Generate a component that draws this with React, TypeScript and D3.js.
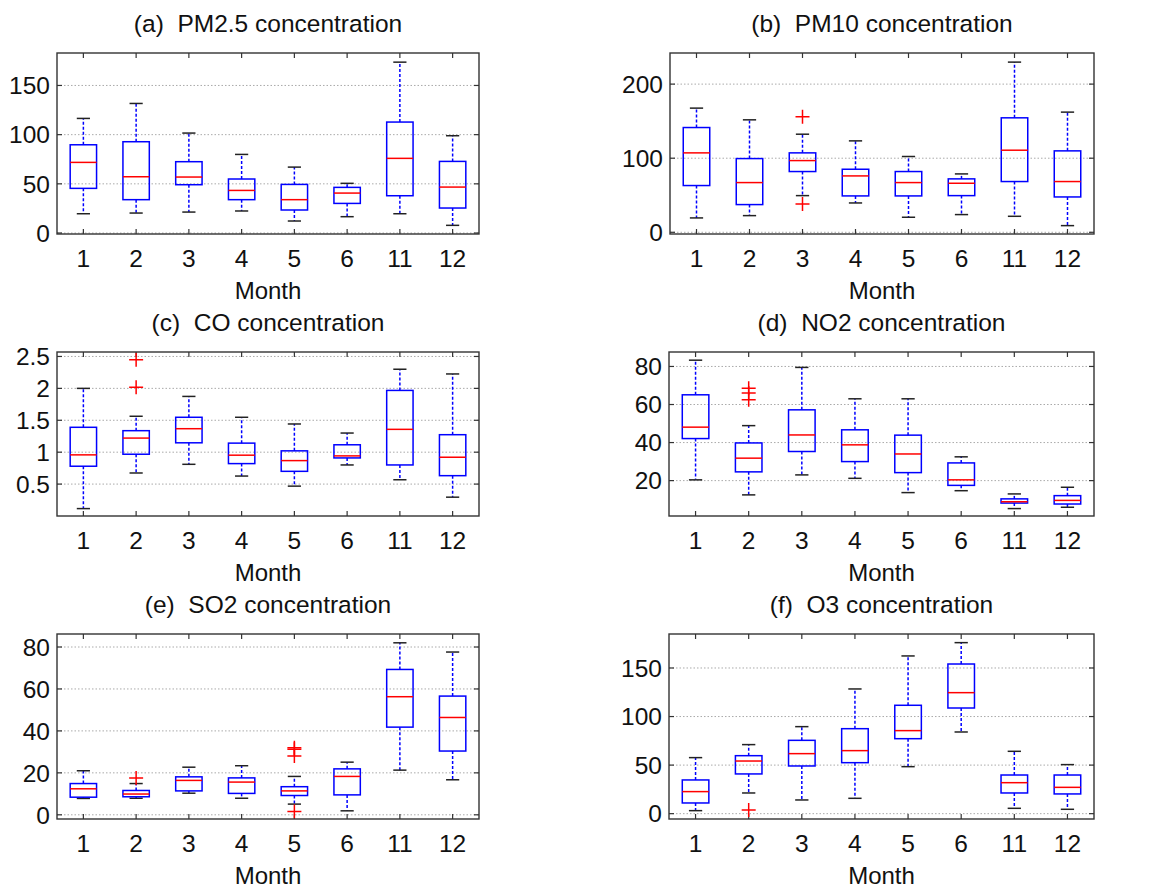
import React from 'react';
import * as d3 from 'd3';

// month labels on the x axis
const months = ['1', '2', '3', '4', '5', '6', '11', '12'];

// five-number summaries per month: [lower whisker, q1, median, q3, upper whisker]
const pm25 = [
  [19.6, 45.4, 71.8, 89.7, 116.5],
  [20.3, 33.9, 57.2, 92.8, 131.7],
  [21.3, 49.1, 56.9, 72.5, 101.6],
  [22.4, 33.9, 43.3, 54.9, 79.9],
  [12.2, 23.4, 33.9, 49.4, 67.0],
  [16.6, 30.1, 40.6, 46.4, 50.5],
  [19.6, 37.9, 75.9, 112.8, 173.7],
  [7.8, 25.4, 46.7, 72.8, 98.9],
];
const pm25Out: number[][] = [[], [], [], [], [], [], [], []];

const pm10 = [
  [19.4, 63.1, 107.2, 141.4, 167.6],
  [22.5, 37.4, 67.1, 99.5, 151.8],
  [49.5, 82.0, 96.8, 107.2, 132.4],
  [39.6, 49.1, 76.1, 85.1, 123.4],
  [20.3, 49.1, 67.1, 82.0, 102.3],
  [23.9, 49.5, 66.2, 72.1, 78.8],
  [21.6, 68.5, 110.8, 154.5, 229.7],
  [9.0, 47.7, 68.5, 109.9, 162.2],
];
const pm10Out = [[], [], [155.9, 38.3], [], [], [], [], []];

const co = [
  [0.116, 0.78, 0.958, 1.39, 2.0],
  [0.674, 0.968, 1.221, 1.337, 1.563],
  [0.81, 1.147, 1.368, 1.547, 1.874],
  [0.626, 0.821, 0.953, 1.142, 1.547],
  [0.468, 0.7, 0.868, 1.021, 1.442],
  [0.8, 0.91, 0.942, 1.116, 1.3],
  [0.568, 0.8, 1.358, 1.968, 2.3],
  [0.295, 0.632, 0.921, 1.274, 2.226],
];
const coOut = [[], [2.45, 2.016], [], [], [], [], [], []];

const no2 = [
  [20.4, 42.1, 48.1, 65.1, 83.3],
  [12.5, 24.6, 31.8, 39.8, 48.9],
  [23.0, 35.3, 44.0, 57.2, 79.5],
  [21.2, 30.0, 38.8, 46.7, 63.0],
  [13.7, 24.2, 34.0, 43.9, 63.0],
  [14.7, 17.5, 20.4, 29.3, 32.5],
  [5.3, 8.2, 8.9, 10.4, 13.0],
  [6.0, 7.7, 9.6, 12.1, 16.5],
];
const no2Out = [[], [68.6, 66.0, 62.5], [], [], [], [], [], []];

const so2 = [
  [7.8, 8.4, 12.4, 14.9, 21.0],
  [7.9, 8.6, 9.9, 11.6, 14.9],
  [10.3, 11.4, 16.4, 18.1, 22.7],
  [7.9, 10.2, 15.6, 17.6, 23.4],
  [5.1, 9.2, 11.4, 13.4, 18.3],
  [1.9, 9.5, 18.3, 21.9, 25.1],
  [21.3, 41.8, 56.3, 69.3, 82.0],
  [16.7, 30.4, 46.4, 56.6, 77.6],
];
const so2Out = [[], [17.6], [], [], [32.0, 31.2, 28.0, 1.6], [], [], []];

const o3 = [
  [3.1, 11.0, 22.7, 34.7, 57.7],
  [21.3, 40.9, 54.2, 59.7, 71.1],
  [14.1, 49.1, 61.8, 75.5, 89.6],
  [15.8, 52.5, 64.9, 87.5, 128.4],
  [48.4, 77.2, 85.5, 111.6, 162.4],
  [84.1, 108.8, 124.6, 154.1, 176.1],
  [5.5, 21.3, 31.9, 39.8, 64.2],
  [4.5, 20.3, 27.1, 39.8, 50.5],
];
const o3Out = [[], [3.8], [], [], [], [], [], []];

const font = '"Liberation Sans", Arial, sans-serif';

type PanelProps = {
  title: string;
  stats: number[][];
  outliers: number[][];
  left: number;
  right: number;
  top: number;
  bottom: number;
  domain: [number, number];
  ticks: number[];
};

function Panel({ title, stats, outliers, left, right, top, bottom, domain, ticks }: PanelProps) {
  const x = d3.scaleLinear().domain([0.5, months.length + 0.5]).range([left, right]);
  const y = d3.scaleLinear().domain(domain).range([bottom, top]);
  const unit = x(1) - x(0);
  const bw = unit * 0.25;
  const cw = unit * 0.125;
  const cx = (left + right) / 2;

  return (
    <g>
      <text x={cx} y={top - 21} textAnchor="middle" fontSize={24.5} fontFamily={font} fill="#111"
        style={{ whiteSpace: 'pre' }}>
        {title}
      </text>
      {ticks.map(t => (
        <g key={'y' + t}>
          <line x1={left} x2={right} y1={y(t)} y2={y(t)} stroke="#aaa" strokeWidth={1} strokeDasharray="1.5,2" />
          <line x1={left} x2={left + 5} y1={y(t)} y2={y(t)} stroke="#333" strokeWidth={1.2} />
          <line x1={right} x2={right - 5} y1={y(t)} y2={y(t)} stroke="#333" strokeWidth={1.2} />
          <text x={left - 7} y={y(t)} dy="0.36em" textAnchor="end" fontSize={24.5} fontFamily={font} fill="#111">
            {d3.format('~g')(t)}
          </text>
        </g>
      ))}
      {months.map((m, i) => (
        <g key={'x' + m}>
          <line x1={x(i + 1)} x2={x(i + 1)} y1={bottom} y2={bottom - 5} stroke="#333" strokeWidth={1.2} />
          <line x1={x(i + 1)} x2={x(i + 1)} y1={top} y2={top + 5} stroke="#333" strokeWidth={1.2} />
          <text x={x(i + 1)} y={bottom + 33} textAnchor="middle" fontSize={24.5} fontFamily={font} fill="#111">
            {m}
          </text>
        </g>
      ))}
      <text x={cx} y={bottom + 65} textAnchor="middle" fontSize={24} fontFamily={font} fill="#111">
        Month
      </text>
      {stats.map((s, i) => {
        const px = x(i + 1);
        const [lo, q1, med, q3, hi] = s;
        return (
          <g key={'b' + i}>
            <line x1={px} x2={px} y1={y(q3)} y2={y(hi)} stroke="#0000ff" strokeWidth={1.5} strokeDasharray="3,2" />
            <line x1={px} x2={px} y1={y(q1)} y2={y(lo)} stroke="#0000ff" strokeWidth={1.5} strokeDasharray="3,2" />
            <line x1={px - cw} x2={px + cw} y1={y(hi)} y2={y(hi)} stroke="#222" strokeWidth={1.5} />
            <line x1={px - cw} x2={px + cw} y1={y(lo)} y2={y(lo)} stroke="#222" strokeWidth={1.5} />
            <rect x={px - bw} y={y(q3)} width={bw * 2} height={y(q1) - y(q3)} fill="none" stroke="#0000ff" strokeWidth={1.5} />
            <line x1={px - bw} x2={px + bw} y1={y(med)} y2={y(med)} stroke="#ff0000" strokeWidth={1.5} />
            {outliers[i].map((o, j) => (
              <path key={j} d={`M${px - 7},${y(o)}H${px + 7}M${px},${y(o) - 7}V${y(o) + 7}`} stroke="#ff0000" strokeWidth={1.5} />
            ))}
          </g>
        );
      })}
      <rect x={left} y={top} width={right - left} height={bottom - top} fill="none" stroke="#333" strokeWidth={1.4} />
    </g>
  );
}

export default function App() {
  return (
    <svg width={1157} height={888} style={{ position: 'absolute', left: 0, top: 0, background: '#fff' }}>
      <Panel title="(a)  PM2.5 concentration" stats={pm25} outliers={pm25Out}
        left={57} right={479} top={53} bottom={234} domain={[-1, 183]} ticks={[0, 50, 100, 150]} />
      <Panel title="(b)  PM10 concentration" stats={pm10} outliers={pm10Out}
        left={670} right={1094} top={53} bottom={234} domain={[-2.3, 242]} ticks={[0, 100, 200]} />
      <Panel title="(c)  CO concentration" stats={co} outliers={coOut}
        left={57} right={479} top={352} bottom={516} domain={[0, 2.57]} ticks={[0.5, 1, 1.5, 2, 2.5]} />
      <Panel title="(d)  NO2 concentration" stats={no2} outliers={no2Out}
        left={669} right={1094} top={352} bottom={516} domain={[1.4, 87.6]} ticks={[20, 40, 60, 80]} />
      <Panel title="(e)  SO2 concentration" stats={so2} outliers={so2Out}
        left={57} right={479} top={634} bottom={819} domain={[-2, 86.2]} ticks={[0, 20, 40, 60, 80]} />
      <Panel title="(f)  O3 concentration" stats={o3} outliers={o3Out}
        left={669} right={1094} top={634} bottom={819} domain={[-5.5, 185]} ticks={[0, 50, 100, 150]} />
    </svg>
  );
}
